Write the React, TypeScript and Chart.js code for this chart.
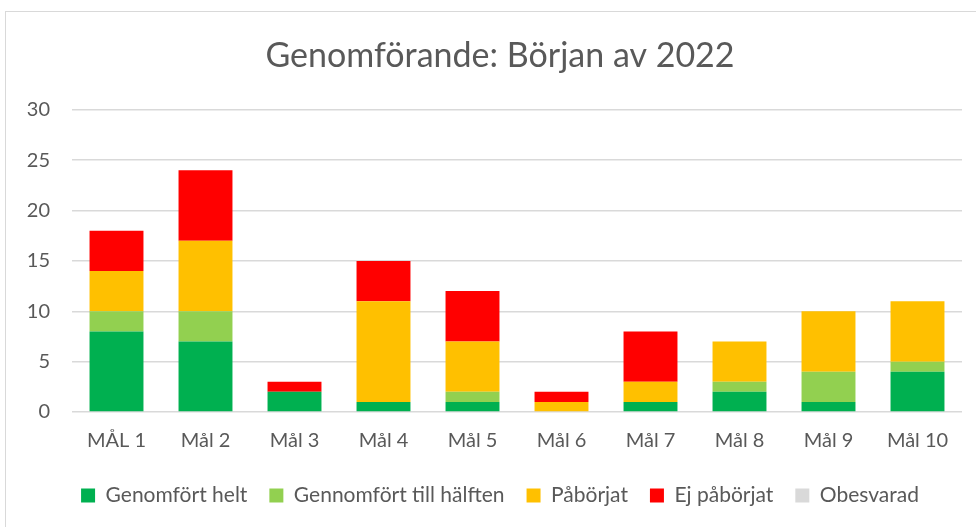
import React, { useEffect, useRef } from "react";
import { Chart, registerables } from "chart.js";

Chart.register(...registerables);

const categories = ["MÅL 1", "Mål 2", "Mål 3", "Mål 4", "Mål 5", "Mål 6", "Mål 7", "Mål 8", "Mål 9", "Mål 10"];
const genomfortHelt = [8, 7, 2, 1, 1, 0, 1, 2, 1, 4];
const genomfortHalften = [2, 3, 0, 0, 1, 0, 0, 1, 3, 1];
const paborjat = [4, 7, 0, 10, 5, 1, 2, 4, 6, 6];
const ejPaborjat = [4, 7, 1, 4, 5, 1, 5, 0, 0, 0];
const obesvarad = [0, 0, 0, 0, 0, 0, 0, 0, 0, 0];
const yTicks = [0, 5, 10, 15, 20, 25, 30];

const FONT = "Lato, 'Open Sans', sans-serif";
const TEXT = "#595959";

export default function App() {
  const ref = useRef<HTMLCanvasElement>(null);
  useEffect(() => {
    document.body.style.margin = "0";
    const ctx = ref.current!;
    const chart = new Chart(ctx, {
      type: "bar",
      data: {
        labels: categories,
        datasets: [
          { label: "Genomfört helt", data: genomfortHelt, backgroundColor: "#00B050" },
          { label: "Gennomfört till hälften", data: genomfortHalften, backgroundColor: "#92D050" },
          { label: "Påbörjat", data: paborjat, backgroundColor: "#FFC000" },
          { label: "Ej påbörjat", data: ejPaborjat, backgroundColor: "#FF0000" },
          { label: "Obesvarad", data: obesvarad, backgroundColor: "#D9D9D9" },
        ],
      },
      options: {
        animation: false,
        responsive: false,
        maintainAspectRatio: false,
        datasets: { bar: { categoryPercentage: 1, barPercentage: 0.606 } },
        layout: { padding: { left: 0, right: 14, top: 0, bottom: 11 } },
        plugins: {
          tooltip: { enabled: false },
          title: {
            display: true,
            text: "Genomförande: Början av 2022",
            color: TEXT,
            font: { family: FONT, size: 34, weight: "normal" },
            padding: { top: 36, bottom: 33 },
          },
          legend: {
            position: "bottom",
            labels: {
              color: TEXT,
              font: { family: FONT, size: 21 },
              boxWidth: 14,
              boxHeight: 14,
              padding: 22,
            },
          },
        },
        scales: {
          x: {
            stacked: true,
            grid: { display: false },
            border: { display: false },
            ticks: { color: TEXT, font: { family: FONT, size: 20 }, padding: 9 },
            afterFit: (s: any) => {
              s.height = 51;
            },
          },
          y: {
            stacked: true,
            min: 0,
            max: 30,
            afterBuildTicks: (s: any) => {
              s.ticks = yTicks.map((v) => ({ value: v }));
            },
            afterFit: (s: any) => {
              s.width = 72;
            },
            grid: { color: "#D9D9D9", lineWidth: 1.5, drawTicks: false },
            border: { display: false },
            ticks: { color: TEXT, font: { family: FONT, size: 20 }, padding: 22 },
          },
          spacer: {
            type: "linear",
            position: "right",
            display: true,
            grid: { display: false, drawTicks: false },
            border: { display: false },
            ticks: { display: false },
            afterFit: (s: any) => {
              s.width = 38;
            },
          },
        },
      },
    });
    return () => chart.destroy();
  }, []);
  return (
    <div style={{ position: "relative", width: 976, height: 527, background: "#fff", overflow: "hidden" }}>
      <div
        style={{
          position: "absolute",
          left: 5,
          top: 11,
          width: 1000,
          height: 600,
          border: "1px solid #D9D9D9",
          boxSizing: "border-box",
        }}
      />
      <canvas ref={ref} width={1014} height={527} style={{ position: "absolute", left: 0, top: 0 }} />
    </div>
  );
}
